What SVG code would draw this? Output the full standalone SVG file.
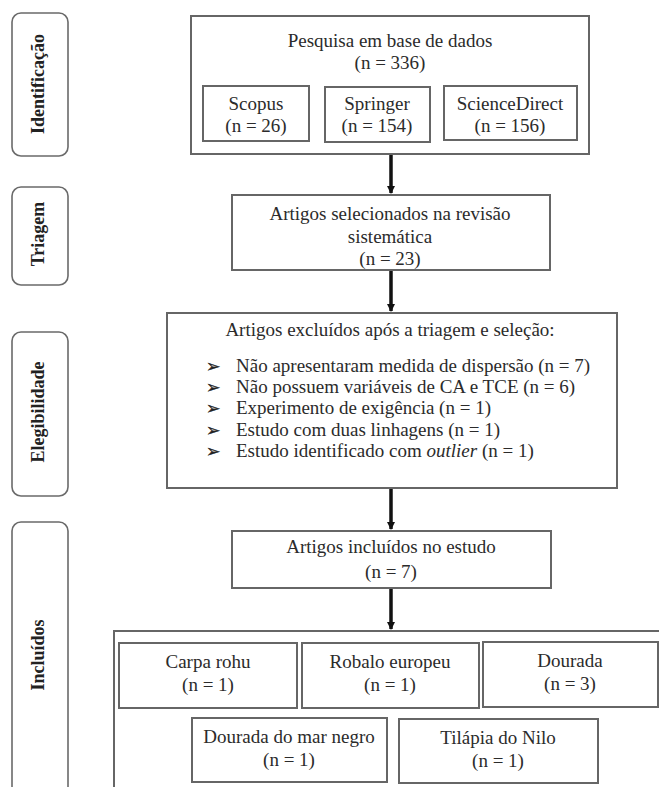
<svg xmlns="http://www.w3.org/2000/svg" width="659" height="787" viewBox="0 0 659 787">
<defs>
<marker id="arr" markerUnits="userSpaceOnUse" markerWidth="8" markerHeight="8" refX="7" refY="4" orient="auto">
<path d="M0,0 L8,4 L0,8 z" fill="#111"/>
</marker>
<style>
.lab{fill:#fff;stroke:#6a6a6a;stroke-width:1.6}
.box{fill:#fff;stroke:#666;stroke-width:2}
.t{font-family:'Liberation Serif','Times New Roman','DejaVu Serif',serif;font-size:19px;fill:#2b2b2b;text-anchor:middle}
.b{font-family:'Liberation Serif','Times New Roman','DejaVu Serif',serif;font-size:19px;fill:#2b2b2b}
.side{font-family:'Liberation Serif','Times New Roman','DejaVu Serif',serif;font-size:18px;font-weight:bold;fill:#222;text-anchor:middle;dominant-baseline:central}
.bul{font-family:'DejaVu Sans',sans-serif;font-size:17px;fill:#222;stroke:#222;stroke-width:0.4}
.con{stroke:#111;stroke-width:3.5;fill:none}
</style>
</defs>
<rect width="659" height="787" fill="#fff"/>

<g id="label-identificacao">
<rect class="lab" x="12" y="13" width="56" height="143" rx="9"/>
<text class="side" transform="translate(38,84) rotate(-90)">Identificação</text>
</g>
<g id="label-triagem">
<rect class="lab" x="12" y="187" width="56" height="98" rx="9"/>
<text class="side" transform="translate(38,234) rotate(-90)">Triagem</text>
</g>
<g id="label-elegibilidade">
<rect class="lab" x="12" y="332" width="56" height="164" rx="9"/>
<text class="side" transform="translate(38,412) rotate(-90)">Elegibilidade</text>
</g>
<g id="label-incluidos">
<rect class="lab" x="12" y="522" width="56" height="290" rx="9"/>
<text class="side" transform="translate(38,655) rotate(-90)">Incluídos</text>
</g>

<g id="connectors">
<line class="con" x1="391" y1="155" x2="391" y2="193" marker-end="url(#arr)"/>
<line class="con" x1="391" y1="271" x2="391" y2="311" marker-end="url(#arr)"/>
<line class="con" x1="391" y1="489" x2="391" y2="529" marker-end="url(#arr)"/>
<line class="con" x1="391" y1="589" x2="391" y2="629" marker-end="url(#arr)"/>
</g>

<g id="pesquisa">
<rect class="box" x="191" y="16" width="398" height="138"/>
<text class="t" x="390" y="47">Pesquisa em base de dados</text>
<text class="t" x="390" y="69">(n = 336)</text>
</g>
<g id="scopus">
<rect class="box" x="203" y="86" width="106" height="55"/>
<text class="t" x="256" y="110">Scopus</text>
<text class="t" x="256" y="132">(n = 26)</text>
</g>
<g id="springer">
<rect class="box" x="325" y="87" width="105" height="55"/>
<text class="t" x="377" y="110">Springer</text>
<text class="t" x="377" y="132">(n = 154)</text>
</g>
<g id="sciencedirect">
<rect class="box" x="444" y="86" width="133" height="54"/>
<text class="t" x="510" y="110">ScienceDirect</text>
<text class="t" x="510" y="132">(n = 156)</text>
</g>

<g id="triagem">
<rect class="box" x="232" y="195" width="318" height="75"/>
<text class="t" x="390" y="220">Artigos selecionados na revisão</text>
<text class="t" x="390" y="243">sistemática</text>
<text class="t" x="390" y="265">(n = 23)</text>
</g>

<g id="excluidos">
<rect class="box" x="167" y="313" width="450" height="175"/>
<text class="t" x="390" y="336">Artigos excluídos após a triagem e seleção:</text>
<text class="bul" x="206" y="372">➢</text>
<text class="b" x="236" y="372">Não apresentaram medida de dispersão (n = 7)</text>
<text class="bul" x="206" y="393">➢</text>
<text class="b" x="236" y="393">Não possuem variáveis de CA e TCE (n = 6)</text>
<text class="bul" x="206" y="414">➢</text>
<text class="b" x="236" y="414">Experimento de exigência (n = 1)</text>
<text class="bul" x="206" y="436">➢</text>
<text class="b" x="236" y="436">Estudo com duas linhagens (n = 1)</text>
<text class="bul" x="206" y="457">➢</text>
<text class="b" x="236" y="457">Estudo identificado com <tspan font-style="italic">outlier</tspan> (n = 1)</text>
</g>

<g id="incluidos">
<rect class="box" x="232" y="531" width="319" height="57"/>
<text class="t" x="391" y="553">Artigos incluídos no estudo</text>
<text class="t" x="391" y="578">(n = 7)</text>
</g>

<g id="especies">
<rect class="box" x="114" y="631" width="560" height="180"/>
</g>
<g id="carpa">
<rect class="box" x="119" y="643" width="178" height="65"/>
<text class="t" x="208" y="668">Carpa rohu</text>
<text class="t" x="208" y="691">(n = 1)</text>
</g>
<g id="robalo">
<rect class="box" x="302" y="643" width="177" height="65"/>
<text class="t" x="390" y="668">Robalo europeu</text>
<text class="t" x="390" y="691">(n = 1)</text>
</g>
<g id="dourada">
<rect class="box" x="483" y="642" width="175" height="65"/>
<text class="t" x="570" y="667">Dourada</text>
<text class="t" x="570" y="690">(n = 3)</text>
</g>
<g id="dourada-mar-negro">
<rect class="box" x="192" y="718" width="195" height="64"/>
<text class="t" x="289" y="743">Dourada do mar negro</text>
<text class="t" x="289" y="766">(n = 1)</text>
</g>
<g id="tilapia">
<rect class="box" x="399" y="719" width="199" height="64"/>
<text class="t" x="498" y="744">Tilápia do Nilo</text>
<text class="t" x="498" y="767">(n = 1)</text>
</g>
</svg>
